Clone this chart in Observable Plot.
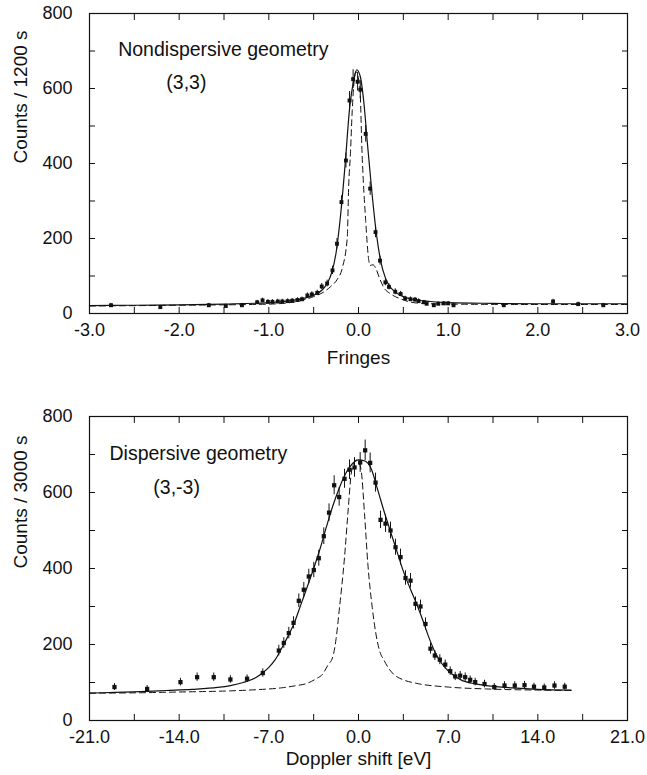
<!DOCTYPE html>
<html><head><meta charset="utf-8">
<script src="https://cdn.jsdelivr.net/npm/d3@7"></script>
<script src="https://cdn.jsdelivr.net/npm/@observablehq/plot@0.6"></script>
<style>
body{margin:0;background:#fff;}
#wrap{position:relative;width:647px;height:775px;overflow:hidden;background:#fff;}
#top,#bot{position:absolute;left:0;}
#top{top:0px;} #bot{top:400px;}
</style></head>
<body><div id="wrap"><div id="top"></div><div id="bot"></div></div>
<script>
// ---------- Top panel: Nondispersive geometry (3,3) ----------
const fringeX = [-2.76,-2.21,-1.67,-1.48,-1.30,-1.13,-1.07,-1.01,-0.96,-0.90,-0.85,-0.79,-0.74,-0.68,-0.63,-0.57,-0.52,-0.46,-0.41,-0.35,-0.29,-0.24,-0.19,-0.14,-0.10,-0.06,-0.01,0.02,0.08,0.13,0.19,0.24,0.30,0.34,0.41,0.47,0.52,0.58,0.63,0.67,0.73,0.76,0.84,0.89,0.95,1.00,1.06,1.62,2.17,2.45,2.73];
const fringeCounts = [22,17,22,20,22,30,35,31,31,32,32,33,34,36,38,48,51,55,72,80,115,186,297,408,568,625,618,597,479,333,217,141,83,71,58,52,40,38,37,33,30,26,22,26,27,27,22,22,32,25,22];
const fringeErr = [5,4,5,5,5,5,6,6,6,6,6,6,6,6,6,7,7,7,8,9,11,14,17,20,24,25,25,24,22,18,15,12,9,8,8,7,6,6,6,6,5,5,5,5,5,5,5,5,6,5,5];
const fitFringeX = [-3.0,-2.5,-2.0,-1.5,-1.0,-0.8,-0.6,-0.5,-0.4,-0.35,-0.3,-0.25,-0.2,-0.15,-0.1,-0.05,-0.02,0.02,0.06,0.1,0.15,0.2,0.25,0.3,0.35,0.4,0.5,0.6,0.8,1.0,1.5,2.0,2.5,3.0];
const fitFringeY = [21,22,23,25,29,33,41,49,64,80,108,162,262,395,545,625,650,632,562,452,322,212,137,95,72,59,45,38,32,29,27,26,26,26];
const instrFringeX = [-3.0,-2.0,-1.0,-0.8,-0.63,-0.5,-0.39,-0.31,-0.24,-0.18,-0.125,-0.11,-0.09,-0.07,-0.03,0.015,0.04,0.08,0.115,0.13,0.16,0.19,0.23,0.28,0.36,0.47,0.65,1.0,2.0,3.0];
const instrFringeY = [20,22,25,28,35,45,57,72,90,122,203,337,426,541,645,603,426,248,141,128,130,122,97,70,52,39,28,25,24,24];

// ---------- Bottom panel: Dispersive geometry (3,-3) ----------
const dopplerX = [-19.05,-16.5,-13.9,-12.6,-11.3,-10.0,-8.7,-7.47,-6.22,-5.83,-5.44,-5.07,-4.66,-4.27,-3.88,-3.49,-3.10,-2.71,-2.30,-1.90,-1.51,-1.09,-0.70,-0.31,0.13,0.52,0.91,1.33,1.72,2.11,2.50,2.89,3.28,3.67,4.06,4.45,4.84,5.23,5.62,5.96,6.35,6.77,7.16,7.55,7.94,8.33,8.72,9.11,9.84,10.6,11.4,12.2,12.96,13.7,14.5,15.3,16.1];
const dopplerCounts = [88,83,101,114,114,108,110,125,184,204,230,257,315,344,379,396,427,485,547,619,588,636,660,666,679,711,678,626,528,518,500,456,430,375,368,307,300,254,189,171,160,147,130,116,118,114,107,101,96,88,92,92,93,89,87,92,89];
const dopplerErr = [9,9,10,11,11,10,10,11,14,14,15,16,18,19,19,20,21,22,23,25,24,25,26,26,26,27,26,25,23,23,22,21,21,19,19,18,17,16,14,13,13,12,11,11,11,11,10,10,10,9,10,10,10,9,9,10,9];
const fitDopplerX = [-21,-19,-17,-15,-13,-11,-10,-9,-8,-7.5,-7,-6.5,-6,-5.5,-5,-4.5,-4,-3.5,-3,-2.5,-2,-1.5,-1,-0.5,0,0.5,1,1.5,2,2.5,3,3.5,4,4.5,5,5.5,6,6.5,7,7.5,8,9,10,12,14,16.6];
const fitDopplerY = [72,74,76,79,82,87,92,100,113,125,140,160,190,222,258,305,352,400,452,510,565,612,650,675,686,683,662,607,550,497,445,393,350,310,266,218,178,150,131,117,107,97,92,86,82,80];
const instrDopplerX = [-21,-17,-14,-10,-8,-6,-5,-4,-3.3,-2.8,-2.4,-2.0,-1.75,-1.48,-1.09,-0.83,-0.57,-0.35,-0.18,0,0.21,0.47,0.73,1.07,1.35,1.64,2.0,2.4,2.8,3.5,4.5,7,10,14,16.6];
const instrDopplerY = [72,73,75,78,81,86,91,98,110,122,145,168,215,298,430,544,649,678,685,680,658,544,412,298,230,184,158,135,120,107,98,88,83,80,79];

// ---------- Ticks and labels ----------
const fringeTicks = [-3,-2,-1,0,1,2,3];
const fringeMinor = [-2.5,-1.5,-0.5,0.5,1.5,2.5];
const dopplerTicks = [-21,-14,-7,0,7,14,21];
const dopplerMinor = [-17.5,-10.5,-3.5,3.5,10.5,17.5];
const countTicks = [0,200,400,600,800];
const countMinor = [100,300,500,700];

const FONT = "'Liberation Sans', Arial, Helvetica, sans-serif";
const INK = "#111";

function panel(o) {
  const pts = o.px.map((x, i) => ({x, y: o.py[i], e: o.pe[i]}));
  const fit = o.fx.map((x, i) => ({x, y: o.fy[i]}));
  const ins = o.ix.map((x, i) => ({x, y: o.iy[i]}));
  const allX = o.xTicks.concat(o.xMinor);
  const allY = countTicks.concat(countMinor);
  const blank = () => "";
  return Plot.plot({
    width: 647, height: o.height,
    marginTop: o.marginTop, marginBottom: o.marginBottom, marginLeft: 89, marginRight: 20,
    style: {fontFamily: FONT, fontSize: "18px", color: INK, background: "#fff", overflow: "visible"},
    x: {domain: o.xDomain},
    y: {domain: [0, 800]},
    marks: [
      Plot.axisX(o.xTicks, {anchor: "bottom", tickSize: 0, tickPadding: 10, tickFormat: d => d.toFixed(1), label: null, fontSize: 18}),
      Plot.axisX(allX, {anchor: "bottom", tickSize: 6, dy: -6, tickFormat: blank, label: null}),
      Plot.axisX(allX, {anchor: "top", tickSize: 6, dy: 6, tickFormat: blank, label: null}),
      Plot.axisY(countTicks, {anchor: "left", tickSize: 0, tickPadding: 17, label: null, fontSize: 18}),
      Plot.axisY(allY, {anchor: "left", tickSize: 6, dx: 6, tickFormat: blank, label: null}),
      Plot.axisY(allY, {anchor: "right", tickSize: 6, dx: -6, tickFormat: blank, label: null}),
      Plot.frame({stroke: INK, strokeWidth: 1.2}),
      Plot.line(ins, {x: "x", y: "y", stroke: INK, strokeWidth: 1, strokeDasharray: "6,4", curve: "monotone-x"}),
      Plot.line(fit, {x: "x", y: "y", stroke: INK, strokeWidth: 1.2, curve: "monotone-x"}),
      Plot.ruleX(pts, {x: "x", y1: d => d.y - d.e, y2: d => d.y + d.e, stroke: INK, strokeWidth: 1}),
      Plot.dot(pts, {x: "x", y: "y", r: o.r, symbol: "square", fill: INK, stroke: null}),
      Plot.text([o.title], {x: o.titleX, y: o.titleY, textAnchor: "start", fontSize: 19.5, fill: INK}),
      Plot.text([o.sub], {x: o.subX, y: o.subY, textAnchor: "middle", fontSize: 19.5, fill: INK}),
      Plot.text([o.xLabel], {frameAnchor: "bottom", lineAnchor: "top", dy: o.xLabelDy, fontSize: 19, fill: INK}),
      Plot.text([o.yLabel], {frameAnchor: "left", rotate: -90, dx: -69, fontSize: 19, fill: INK})
    ]
  });
}

document.getElementById("top").append(panel({
  height: 375, marginTop: 13, marginBottom: 62,
  xDomain: [-3, 3], xTicks: fringeTicks, xMinor: fringeMinor,
  px: fringeX, py: fringeCounts, pe: fringeErr, r: 2.2,
  fx: fitFringeX, fy: fitFringeY, ix: instrFringeX, iy: instrFringeY,
  title: "Nondispersive geometry", titleX: -2.68, titleY: 704,
  sub: "(3,3)", subX: -1.92, subY: 615,
  xLabel: "Fringes", xLabelDy: 37, yLabel: "Counts / 1200 s"
}));

document.getElementById("bot").append(panel({
  height: 375, marginTop: 16, marginBottom: 55,
  xDomain: [-21, 21], xTicks: dopplerTicks, xMinor: dopplerMinor,
  px: dopplerX, py: dopplerCounts, pe: dopplerErr, r: 2.4,
  fx: fitDopplerX, fy: fitDopplerY, ix: instrDopplerX, iy: instrDopplerY,
  title: "Dispersive geometry", titleX: -19.44, titleY: 701,
  sub: "(3,-3)", subX: -14.2, subY: 613,
  xLabel: "Doppler shift [eV]", xLabelDy: 31, yLabel: "Counts / 3000 s"
}));
</script>
</body></html>
